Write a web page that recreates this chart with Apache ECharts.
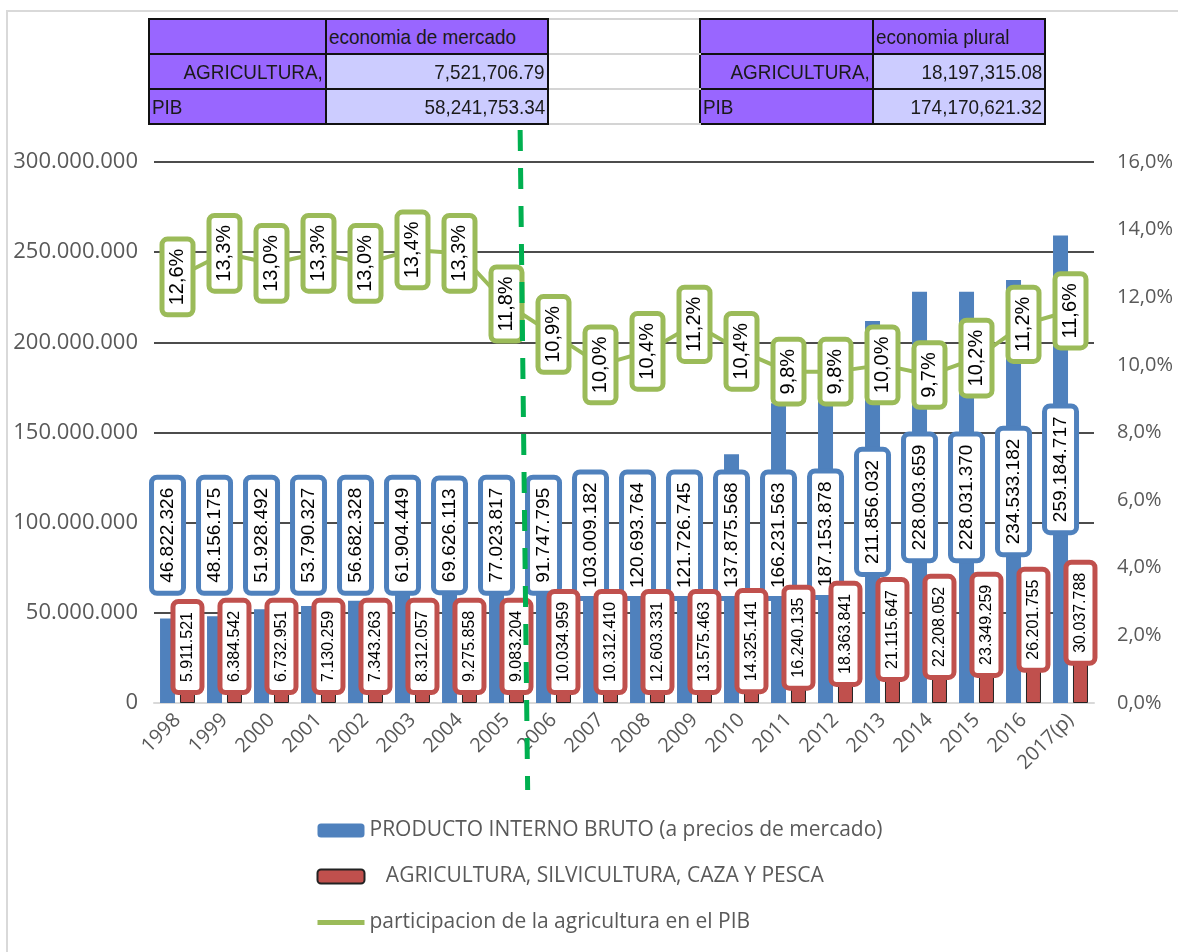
<!DOCTYPE html>
<html>
<head>
<meta charset="utf-8">
<script src="https://cdn.jsdelivr.net/npm/echarts@6/dist/echarts.min.js"></script>
<style>
  html, body { margin: 0; padding: 0; background: #fff; }
  #frame { position: absolute; left: 6px; top: 10px; width: 1172px; height: 942px;
           border-left: 2px solid #d9d9d9; border-top: 2px solid #d9d9d9; box-sizing: border-box; }
  #chart { position: absolute; left: 0; top: 0; width: 1178px; height: 952px; }
  #tbl { position: absolute; left: 148px; top: 18px; border-collapse: collapse; z-index: 5;
         font-family: "Liberation Sans", sans-serif; font-size: 21px; color: #1a1a1a; }
  #tbl td { height: 33px; padding: 0 2px; border: 2px solid #111; white-space: nowrap; overflow: hidden; }
  #tbl td span { display: inline-block; transform: scaleX(0.9); transform-origin: left center; }
  #tbl td.r span { transform-origin: right center; }
  #tbl td.lab { background: #9966ff; }
  #tbl td.val { background: #ccccff; text-align: right; }
  #tbl td.r { text-align: right; }
  #tbl td.gap { background: #fff; border-color: #d4d4d4; border-left-color: #111; border-right-color: #111; }
</style>
</head>
<body>
<div id="frame"></div>
<div id="chart"></div>
<table id="tbl"></table>
<script>
var years = ['1998', '1999', '2000', '2001', '2002', '2003', '2004', '2005', '2006', '2007',
             '2008', '2009', '2010', '2011', '2012', '2013', '2014', '2015', '2016', '2017(p)'];
var pib = [46822326, 48156175, 51928492, 53790327, 56682328, 61904449, 69626113, 77023817, 91747795, 103009182,
           120693764, 121726745, 137875568, 166231563, 187153878, 211856032, 228003659, 228031370, 234533182, 259184717];
var agri = [5911521, 6384542, 6732951, 7130259, 7343263, 8312057, 9275858, 9083204, 10034959, 10312410,
            12603331, 13575463, 14325141, 16240135, 18363841, 21115647, 22208052, 23349259, 26201755, 30037788];
var share = [12.6, 13.3, 13.0, 13.3, 13.0, 13.4, 13.3, 11.8, 10.9, 10.0,
             10.4, 11.2, 10.4, 9.8, 9.8, 10.0, 9.7, 10.2, 11.2, 11.6];

var seriesNames = ['PRODUCTO INTERNO BRUTO (a precios de mercado)',
                   '   AGRICULTURA, SILVICULTURA, CAZA Y PESCA',
                   'participacion de la agricultura en el PIB'];

// summary table above the chart
var tableHead = ['', 'economia de mercado', '', '', 'economia plural'];
var tableRowAgri = ['AGRICULTURA,', '7,521,706.79', '', 'AGRICULTURA,', '18,197,315.08'];
var tableRowPib = ['PIB', '58,241,753.34', '', 'PIB', '174,170,621.32'];
var colWidths = [171, 216, 146, 167, 166];

var tbl = document.getElementById('tbl');
[tableHead, tableRowAgri, tableRowPib].forEach(function (row, r) {
    var tr = document.createElement('tr');
    row.forEach(function (txt, c) {
        var td = document.createElement('td');
        var sp = document.createElement('span');
        sp.textContent = txt;
        td.appendChild(sp);
        td.style.width = colWidths[c] + 'px';
        td.style.maxWidth = colWidths[c] + 'px';
        if (c === 2) td.className = 'gap';
        else if (c === 0 || c === 3 || r === 0) td.className = 'lab';
        else td.className = 'val r';
        if (r === 1 && (c === 0 || c === 3)) td.className += ' r';
        tr.appendChild(td);
    });
    tbl.appendChild(tr);
});

function dots(v) {
    return String(v).replace(/\B(?=(\d{3})+(?!\d))/g, '.');
}
function pct(v) {
    return v.toFixed(1).replace('.', ',') + '%';
}

var labelFont = 'Liberation Sans';
var axisFont = 'Open Sans';

var chart = echarts.init(document.getElementById('chart'));

function boxLabel(color, position, size, pad) {
    return {
        show: true,
        position: position,
        rotate: 90,
        color: '#000',
        fontFamily: labelFont,
        fontSize: size,
        backgroundColor: '#fff',
        borderColor: color,
        borderWidth: 5,
        borderRadius: 3,
        padding: pad,
        textBorderWidth: 0
    };
}

var option = {
    animation: false,
    grid: { left: 154, right: 84, top: 162, bottom: 249 },
    legend: {
        orient: 'vertical',
        left: 315,
        top: 820,
        padding: 0,
        itemWidth: 47,
        itemHeight: 14,
        itemGap: 25,
        textStyle: { fontFamily: axisFont, fontSize: 21, color: '#595959' },
        data: [seriesNames[0], seriesNames[1],
               { name: seriesNames[2], itemStyle: { opacity: 0 }, lineStyle: { width: 5 } }]
    },
    xAxis: {
        type: 'category',
        data: years,
        axisTick: { show: false },
        axisLine: { lineStyle: { color: '#d9d9d9', width: 2 } },
        axisLabel: { interval: 0, rotate: 45, margin: 14, fontFamily: axisFont, fontSize: 20, color: '#595959' }
    },
    yAxis: [
        {
            type: 'value', min: 0, max: 300000000, interval: 50000000,
            axisLine: { show: false }, axisTick: { show: false },
            splitLine: { lineStyle: { color: '#111', width: 1.5 } },
            axisLabel: { margin: 16, fontFamily: axisFont, fontSize: 22, color: '#595959', formatter: dots }
        },
        {
            type: 'value', min: 0, max: 16, interval: 2,
            axisLine: { show: false }, axisTick: { show: false },
            splitLine: { show: false },
            axisLabel: { margin: 23, fontFamily: axisFont, fontSize: 20, color: '#595959', formatter: pct }
        }
    ],
    series: [
        {
            name: seriesNames[0],
            type: 'bar',
            barWidth: 15,
            barGap: '33%',
            itemStyle: { color: '#4f81bd' },
            label: Object.assign(boxLabel('#4f81bd', 'inside', 19, [4, 8]), {
                align: 'center', verticalAlign: 'middle',
                formatter: function (p) { return dots(p.value); }
            }),
            data: pib
        },
        {
            name: seriesNames[1],
            type: 'bar',
            barWidth: 15,
            itemStyle: { color: '#c0504d', borderColor: '#222', borderWidth: 1 },
            label: Object.assign(boxLabel('#c0504d', 'top', 16, [4, 8]), {
                distance: 0, align: 'left', verticalAlign: 'middle',
                formatter: function (p) { return dots(p.value); }
            }),
            data: agri
        },
        {
            name: seriesNames[2],
            type: 'line',
            yAxisIndex: 1,
            symbol: 'circle',
            symbolSize: 1,
            showSymbol: true,
            lineStyle: { color: '#9bbb59', width: 4 },
            itemStyle: { color: '#9bbb59' },
            label: Object.assign(boxLabel('#9bbb59', 'inside', 20, [3, 7]), {
                align: 'center', verticalAlign: 'middle',
                formatter: function (p) { return pct(p.value); }
            }),
            data: share
        }
    ]
};

chart.setOption(option);

// second pass: place the value boxes the way the source chart stacks them
// (labels are rotated 90deg, so offset x in label space means "up" on screen)
var base = chart.convertToPixel({ yAxisIndex: 0 }, 0);
function py(v) { return chart.convertToPixel({ yAxisIndex: 0 }, v); }
var minCenter = 93000000;

var pibData = pib.map(function (v) {
    var up = py(v / 2) - py(Math.max(minCenter, v / 2));
    return { value: v, label: { offset: [up, 0] } };
});
var agriData = agri.map(function (v) {
    var h = base - py(v);
    var down = Math.min(12, h - 13);
    return { value: v, label: { offset: [-down, 0] } };
});

var x05 = chart.convertToPixel({ xAxisIndex: 0 }, '2005');
var x06 = chart.convertToPixel({ xAxisIndex: 0 }, '2006');

chart.setOption({
    series: [{ data: pibData }, { data: agriData }],
    graphic: [{
        type: 'line',
        z: 100,
        shape: { x1: x05 + (x06 - x05) * 0.29, y1: 130, x2: x05 + (x06 - x05) * 0.45, y2: 790 },
        style: { stroke: '#00b050', lineWidth: 5, lineDash: [21, 17] }
    }]
});

window.addEventListener('resize', chart.resize);
</script>
</body>
</html>
